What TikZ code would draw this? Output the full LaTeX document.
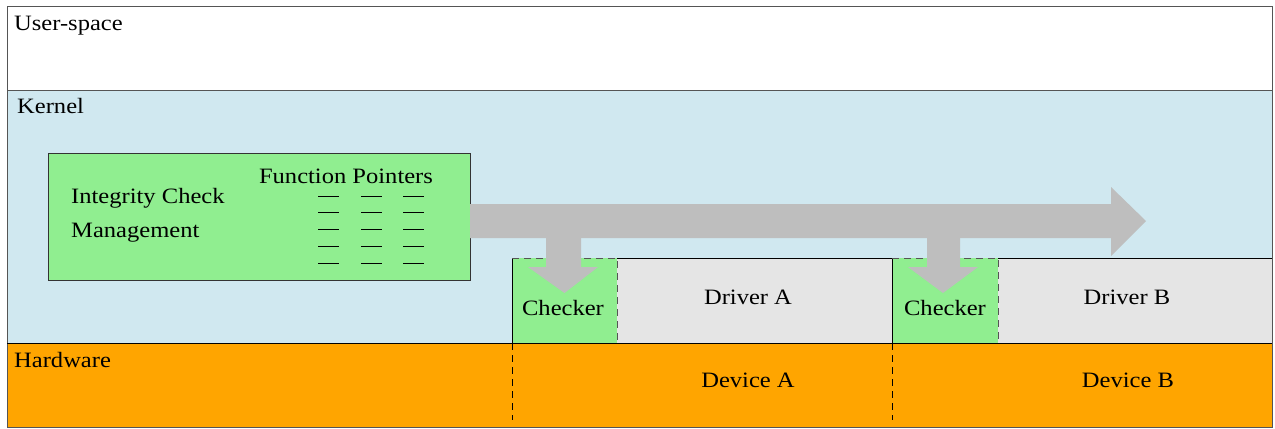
\documentclass[tikz,border=0pt]{standalone}
\usepackage{fontspec}
\setmainfont{Liberation Serif}[FakeStretch=1.12]
\definecolor{kernelblue}{HTML}{D0E8F0}
\definecolor{boxgreen}{HTML}{90EE90}
\definecolor{drivergray}{HTML}{E5E5E5}
\definecolor{hworange}{HTML}{FFA500}
\definecolor{arrowgray}{HTML}{BEBEBE}
\definecolor{edgegray}{HTML}{555555}
\begin{document}
\begin{tikzpicture}[x=1bp,y=-1bp,
  every node/.style={font=\fontsize{22}{26}\selectfont},
  layer/.style={draw=edgegray, line width=0.9bp, anchor=north west, inner sep=0pt, outer sep=0pt},
  panel/.style={anchor=north west, inner sep=0pt, outer sep=0pt},
  lbl/.style={anchor=base west, inner sep=0pt},
  ctr/.style={anchor=base, inner sep=0pt},
  fptr/.style={line width=0.9bp, black},
  blockarrow/.style={fill=arrowgray},
  splitline/.style={dashed, dash pattern=on 7bp off 5bp, line width=0.9bp},
]
\useasboundingbox (0,0) rectangle (1275,428);

% layers
\node[layer, fill=white, minimum width=1265bp, minimum height=84bp] (user) at (7,6) {};
\node[layer, fill=kernelblue, minimum width=1265bp, minimum height=253bp] (kernel) at (7,90) {};
\node[layer, fill=hworange, minimum width=1265bp, minimum height=84bp] (hw) at (7,343) {};
\node[lbl] (userlbl) at (14,30) {User-space};
\node[lbl] (kernellbl) at (17,113) {Kernel};
\node[lbl] (hwlbl) at (14,367) {Hardware};

% integrity check management block
\node[layer, draw=black!80, fill=boxgreen, minimum width=422bp, minimum height=127bp] (icm) at (48,153) {};
\node[lbl] (icmlbl1) at (71,203) {Integrity Check};
\node[lbl] (icmlbl2) at (71,237) {Management};
\node[ctr] (fplbl) at (346,183) {Function Pointers};
\foreach \y in {196,212,229,246,263}
  \foreach \x in {318,361,403}
    \draw[fptr] (\x,\y) -- ++(21,0);

% drivers with their checkers
\node[panel, fill=drivergray, minimum width=275bp, minimum height=85bp] (drva) at (617,258) {};
\node[panel, fill=drivergray, minimum width=274bp, minimum height=85bp] (drvb) at (998,258) {};
\node[panel, fill=boxgreen, minimum width=105bp, minimum height=85bp] (chka) at (512,258) {};
\node[panel, fill=boxgreen, minimum width=106bp, minimum height=85bp] (chkb) at (892,258) {};
\draw[line width=0.9bp] (drva.north west) -- (drva.north east) -- (drva.south east);
\draw[line width=0.9bp] (drvb.north west) -- (drvb.north east);
\foreach \c in {chka,chkb} {
  \draw[line width=0.9bp] (\c.south west) -- (\c.north west);
  \draw[splitline, edgegray] (\c.north west) -- (\c.north east) -- (\c.south east);
}
\draw[line width=0.9bp] (kernel.south west) -- (kernel.south east);
\node[ctr] (drvalbl) at (748,304) {Driver A};
\node[ctr] (drvblbl) at (1127,304) {Driver B};
\node[ctr] (chkalbl) at (563,315) {Checker};
\node[ctr] (chkblbl) at (945,315) {Checker};

% devices
\node[ctr] (devalbl) at (748,387) {Device A};
\node[ctr] (devblbl) at (1128,387) {Device B};
\draw[splitline] (chka.south west) -- ++(0,77);
\draw[splitline] (chkb.south west) -- ++(0,77);

% dispatch arrows
\fill[blockarrow] (icm.east |- 0,204) -- (1111,204) -- (1111,187) -- (1146,221)
  -- (1111,256) -- (1111,238) -- (icm.east |- 0,238) -- cycle;
\fill[blockarrow] (546,237) -- (546,267) -- (528,267) -- (chka.north |- 0,293)
  -- (598,267) -- (581,267) -- (581,237) -- cycle;
\fill[blockarrow] (927,237) -- (927,267) -- (908,267) -- (943,293)
  -- (978,267) -- (960,267) -- (960,237) -- cycle;
\end{tikzpicture}
\end{document}
